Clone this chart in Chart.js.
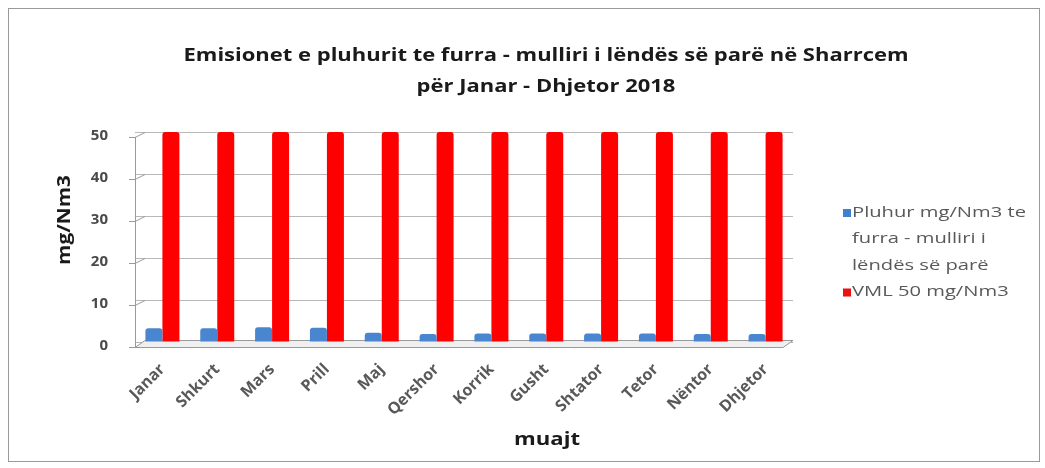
<!DOCTYPE html>
<html>
<head>
<meta charset="utf-8">
<script src="https://cdn.jsdelivr.net/npm/chart.js@4.4.0/dist/chart.umd.min.js"></script>
<style>
  html, body { margin: 0; padding: 0; background: #fff; overflow: hidden; }
  canvas { position: absolute; left: 0; top: 0; display: block; }
  #frame { position: absolute; left: 8px; top: 8px; width: 1032px; height: 454px;
           border: 1px solid #9a9a9a; box-sizing: border-box; pointer-events: none; }
</style>
</head>
<body>
<canvas id="c" width="1045" height="468"></canvas>
<div id="frame"></div>
<script>
// Monthly dust emissions at the kiln / raw mill vs. the emission limit value
const months = ['Janar', 'Shkurt', 'Mars', 'Prill', 'Maj', 'Qershor', 'Korrik', 'Gusht', 'Shtator', 'Tetor', 'Nëntor', 'Dhjetor'];
const dustValues = [3.3, 3.3, 3.5, 3.4, 2.2, 1.9, 2.0, 2.0, 2.0, 2.0, 1.9, 1.9];
const limitValues = [50, 50, 50, 50, 50, 50, 50, 50, 50, 50, 50, 50];
const dustLabel = ['Pluhur mg/Nm3 te', 'furra - mulliri i', 'lëndës së parë'];
const limitLabel = ['VML 50 mg/Nm3'];
const yTicks = [0, 10, 20, 30, 40, 50];
const titleLines = ['Emisionet e pluhurit te furra - mulliri i lëndës së parë në Sharrcem', 'për Janar - Dhjetor 2018'];
const yTitle = 'mg/Nm3';
const xTitle = 'muajt';

const FONT = '"Open Sans", "Liberation Sans", sans-serif';

// Horizontal gradient to give each bar a shaded side
function sideShade(ctx, light, dark) {
  const el = ctx.element;
  const chart = ctx.chart;
  if (!el || !chart.chartArea) return light;
  const half = (el.width || 0) / 2;
  const x0 = el.x - half, x1 = el.x + half;
  if (!Number.isFinite(x0) || !Number.isFinite(x1) || half <= 0) return light;
  const g = chart.ctx.createLinearGradient(x0, 0, x1, 0);
  g.addColorStop(0, light);
  g.addColorStop(0.55, light);
  g.addColorStop(1, dark);
  return g;
}

// Draw text stretched horizontally to a given width, centred at (cx, cy)
function stretchedText(ctx, text, cx, cy, width) {
  const w = ctx.measureText(text).width;
  const s = width ? width / w : 1;
  ctx.save();
  ctx.translate(cx, cy);
  ctx.scale(s, 1);
  ctx.textAlign = 'center';
  ctx.fillText(text, 0, 0);
  ctx.restore();
}

// Chart title and axis titles
const titles = {
  id: 'titles',
  afterDraw(chart) {
    const ctx = chart.ctx;
    ctx.save();
    ctx.textBaseline = 'middle';
    ctx.fillStyle = '#1a1a1a';
    ctx.font = 'bold 17px ' + FONT;
    const s = 725 / ctx.measureText(titleLines[0]).width;
    titleLines.forEach((t, i) => {
      stretchedText(ctx, t, 546, 56 + i * 31, ctx.measureText(t).width * s);
    });
    ctx.font = 'bold 18px ' + FONT;
    stretchedText(ctx, xTitle, 547, 440, 66);
    ctx.save();
    ctx.translate(65, 220);
    ctx.rotate(-Math.PI / 2);
    ctx.font = 'bold 17px ' + FONT;
    stretchedText(ctx, yTitle, 0, 0, 90);
    ctx.restore();
    ctx.restore();
  }
};

// Legend with wrapped multi-line entries, drawn to the right of the plot
const sideLegend = {
  id: 'sideLegend',
  afterDraw(chart) {
    const ctx = chart.ctx;
    ctx.save();
    ctx.font = '14px ' + FONT;
    ctx.textBaseline = 'middle';
    ctx.textAlign = 'left';
    const s = 174 / ctx.measureText(dustLabel[0]).width;
    const x = 843, lineH = 26.5;
    let y = 213;
    chart.data.datasets.forEach(ds => {
      ctx.fillStyle = ds.legendColor;
      ctx.fillRect(x, y - 4, 8, 8);
      ctx.fillStyle = '#595959';
      ds.legendLines.forEach((t, i) => {
        ctx.save();
        ctx.translate(x + 9, y + i * lineH);
        ctx.scale(s, 1);
        ctx.fillText(t, 0, 0);
        ctx.restore();
      });
      y += ds.legendLines.length * lineH;
    });
    ctx.restore();
  }
};

// Left axis bracket marks and the receding floor edge
const axisDecor = {
  id: 'axisDecor',
  beforeDatasetsDraw(chart) {
    const { ctx, chartArea: a, scales: { y } } = chart;
    ctx.save();
    ctx.strokeStyle = '#9a9a9a';
    ctx.lineWidth = 1;
    const d = 5;
    yTicks.forEach(v => {
      const py = Math.round(y.getPixelForValue(v)) + 0.5;
      ctx.beginPath();
      ctx.moveTo(a.left - 6, py + d);
      ctx.lineTo(a.left, py + d);
      ctx.lineTo(a.left + 10, py);
      ctx.stroke();
    });
    ctx.beginPath();
    ctx.moveTo(a.left + 0.5, y.getPixelForValue(50) + d);
    ctx.lineTo(a.left + 0.5, y.getPixelForValue(0) + d);
    ctx.stroke();
    // floor slab
    const fy = Math.round(y.getPixelForValue(0)) + 0.5;
    ctx.fillStyle = '#efefef';
    ctx.beginPath();
    ctx.moveTo(a.left, fy + d);
    ctx.lineTo(a.right - 10, fy + d);
    ctx.lineTo(a.right, fy - 2);
    ctx.lineTo(a.left + 10, fy - 2);
    ctx.closePath();
    ctx.fill();
    ctx.stroke();
    ctx.restore();
  }
};

new Chart(document.getElementById('c'), {
  type: 'bar',
  data: {
    labels: months,
    datasets: [
      {
        label: dustLabel.join(' '),
        legendLines: dustLabel,
        legendColor: '#3f7fcf',
        data: dustValues,
        backgroundColor: ctx => sideShade(ctx, '#4a86d0', '#2a5c9c'),
        borderRadius: { topLeft: 3, topRight: 3 },
        borderSkipped: 'bottom',
        barPercentage: 1,
        categoryPercentage: 0.62
      },
      {
        label: limitLabel.join(' '),
        legendLines: limitLabel,
        legendColor: '#ee1111',
        data: limitValues,
        backgroundColor: ctx => sideShade(ctx, '#ff0000', '#b80000'),
        borderRadius: { topLeft: 3, topRight: 3 },
        borderSkipped: 'bottom',
        barPercentage: 1,
        categoryPercentage: 0.62
      }
    ]
  },
  options: {
    responsive: false,
    animation: false,
    layout: { padding: { left: 0, right: 252, top: 132, bottom: 0 } },
    plugins: {
      legend: { display: false },
      tooltip: { enabled: false },
      title: { display: false }
    },
    scales: {
      x: {
        afterFit: s => { s.height = 126; },
        grid: { display: false },
        border: { display: false },
        ticks: {
          color: '#595959',
          font: { family: FONT, size: 16, weight: 'bold' },
          maxRotation: 45, minRotation: 45,
          padding: 10
        }
      },
      y: {
        min: 0, max: 50,
        afterFit: s => { s.width = 135; },
        afterBuildTicks: s => { s.ticks = yTicks.map(v => ({ value: v })); },
        grid: { color: '#b8b8b8', drawTicks: false },
        border: { display: false },
        ticks: {
          color: '#4a4a4a',
          font: { family: FONT, size: 15, weight: 'bold' },
          padding: 27,
          labelOffset: 4
        }
      }
    }
  },
  plugins: [axisDecor, sideLegend, titles]
});
</script>
</body>
</html>
